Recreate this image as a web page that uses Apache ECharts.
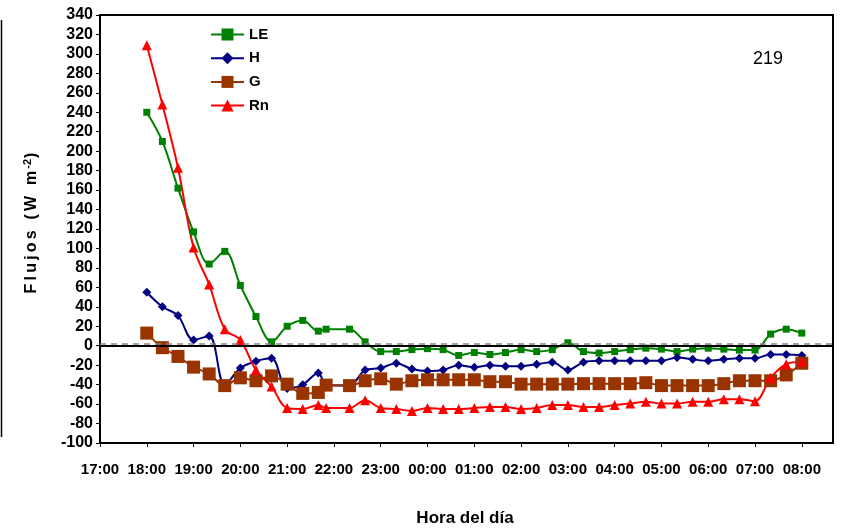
<!DOCTYPE html>
<html><head><meta charset="utf-8">
<script src="https://cdn.jsdelivr.net/npm/echarts@6/dist/echarts.min.js"></script>
<style>html,body{margin:0;padding:0;background:#fff}#c{width:842px;height:529px}</style>
</head><body><div id="c"></div>
<script>
const times = ['18:00','18:20','18:40','19:00','19:20','19:40','20:00','20:20','20:40','21:00','21:20','21:40','21:50',
  '22:20','22:40','23:00','23:20','23:40','00:00','00:20','00:40','01:00','01:20','01:40','02:00','02:20','02:40',
  '03:00','03:20','03:40','04:00','04:20','04:40','05:00','05:20','05:40','06:00','06:20','06:40','07:00','07:20','07:40','08:00'];
const LE = [240,210,162,117,84,97,62,30,4,20,26,15,17,
  17,4,-6,-6,-4,-3,-4,-10,-7,-9,-7,-4,-6,-4,
  3,-6,-7.5,-6,-4,-2.5,-3.5,-6,-3.5,-2.5,-3.5,-4.5,-4.5,12,17,13];
const H = [55,40,31,6,10,-40,-23,-16,-13,-44,-40,-28,-40,
  -41,-25,-23,-18,-24,-26,-25,-20,-22,-20,-21,-21,-19,-17,
  -25,-17,-15.5,-15.5,-15.5,-15.5,-15.5,-12,-14,-15.5,-14,-13,-13,-9,-9,-10];
const G = [13,-2,-11,-22,-29,-41,-33,-36,-31,-39.5,-49,-48,-40.5,
  -41,-36,-34,-39.5,-36,-35,-35,-35,-35,-37,-37,-39.5,-39.5,-39.5,
  -39.5,-39,-39,-39,-39,-38,-41,-41,-41,-41,-39,-36,-36,-36,-30,-18];
const Rn = [309,248,183,101,63,17,6,-25,-42,-64,-65,-61,-64,
  -64,-56,-64,-65,-67,-64,-65,-65,-64,-63,-63,-65,-64,-61,
  -61,-63,-63,-61,-59.5,-57.5,-59.5,-59.5,-57.5,-57.5,-55,-55,-57,-33,-19,-16.5];
const hourLabels = ['17:00','18:00','19:00','20:00','21:00','22:00','23:00','00:00','01:00','02:00','03:00','04:00','05:00','06:00','07:00','08:00'];
const yTicks = {min:-100, max:340, interval:20};

function toHours(s){
  const p = s.split(':');
  let h = parseInt(p[0],10) + parseInt(p[1],10)/60;
  if (h < 17) h += 24;
  return h - 17;
}
function pairs(vals){ return times.map((t,i)=>[toHours(t), vals[i]]); }

const FONT = "'Liberation Sans', Arial, sans-serif";
const chart = echarts.init(document.getElementById('c'), null, {renderer:'canvas'});
const common = {type:'line', smooth:0.35, lineStyle:{width:2}, animation:false};
chart.setOption({
  animation:false,
  backgroundColor:'#fff',
  grid:{left:100, right:9, top:15, bottom:86, show:true, borderColor:'#000', borderWidth:2, backgroundColor:'transparent'},
  legend:{
    orient:'vertical', left:205, top:22, itemWidth:33, itemHeight:15, itemGap:8.7,
    data:['LE','H','G','Rn'],
    textStyle:{fontFamily:FONT, fontWeight:'bold', fontSize:15, color:'#000'}
  },
  xAxis:{
    type:'value', min:0, max:47/3, interval:1,
    axisLine:{show:true, onZero:false, lineStyle:{color:'#000', width:2}},
    axisTick:{show:true, inside:false, length:4, lineStyle:{color:'#000', width:1}},
    splitLine:{show:false},
    axisLabel:{
      showMaxLabel:false, margin:19,
      fontFamily:FONT, fontWeight:'bold', fontSize:15, color:'#000',
      formatter:function(v){ const k=Math.round(v); return (Math.abs(v-k)<1e-6 && k>=0 && k<hourLabels.length)? hourLabels[k] : ''; }
    }
  },
  yAxis:{
    type:'value', min:yTicks.min, max:yTicks.max, interval:yTicks.interval,
    axisLine:{show:true, lineStyle:{color:'#000', width:2}},
    axisTick:{show:true, inside:false, length:4, lineStyle:{color:'#000', width:1}},
    splitLine:{show:false},
    axisLabel:{margin:7, fontFamily:FONT, fontWeight:'bold', fontSize:16, color:'#000'}
  },
  graphic:[
    {type:'text', x:32, y:223, rotation:Math.PI/2,
      style:{text:'{a|F\u2009l\u2009u\u2009j\u2009o\u2009s\u2009 \u2009(\u2009W\u2009 \u2009m}{b|-2}{a|)}', align:'center', verticalAlign:'middle',
        rich:{a:{fontFamily:FONT, fontWeight:'bold', fontSize:16, fill:'#000', lineHeight:20},
              b:{fontFamily:FONT, fontWeight:'bold', fontSize:11, fill:'#000', lineHeight:20, verticalAlign:'top', padding:[0,1,0,2]}}}},
    {type:'text', x:465, y:518, style:{text:'Hora del día', align:'center', verticalAlign:'middle',
      font:"bold 17px 'Liberation Sans', Arial, sans-serif", fill:'#000'}},
    {type:'text', x:768, y:59, style:{text:'219', align:'center', verticalAlign:'middle',
      font:"18px 'Liberation Sans', Arial, sans-serif", fill:'#000'}},
    {type:'line', shape:{x1:1.5, y1:20, x2:1.5, y2:437}, style:{stroke:'#000', lineWidth:1.5}}
  ],
  series:[
    Object.assign({}, common, {name:'LE', data:pairs(LE), color:'#008000', symbol:'rect', symbolSize:7,
      markLine:{silent:true, symbol:'none', label:{show:false}, animation:false,
        data:[{yAxis:0, lineStyle:{color:'#000', width:2, type:'solid'}},
              {yAxis:1.6, lineStyle:{color:'#888', width:1.5, type:[6,5]}}]}}),
    Object.assign({}, common, {name:'H', data:pairs(H), color:'#000080', symbol:'diamond', symbolSize:9}),
    Object.assign({}, common, {name:'G', data:pairs(G), color:'#993300', symbol:'rect', symbolSize:13}),
    Object.assign({}, common, {name:'Rn', data:pairs(Rn), color:'#FF0000', symbol:'triangle', symbolSize:10})
  ]
});
</script></body></html>
